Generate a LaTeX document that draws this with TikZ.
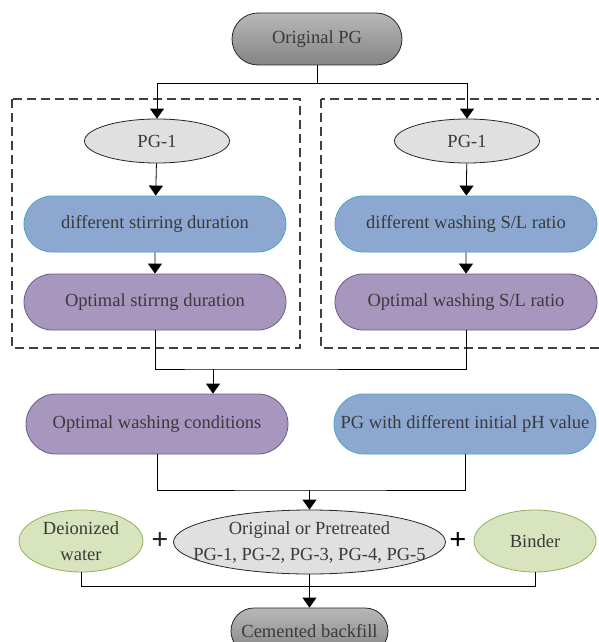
\documentclass[tikz,border=0pt]{standalone}
\usepackage{fontspec}
\setmainfont{Liberation Serif}
\usetikzlibrary{arrows.meta,positioning,shapes.geometric,shapes.misc}
\definecolor{stepblue}{HTML}{8CA8D1}
\definecolor{stepblueline}{HTML}{4BA6C3}
\definecolor{optpurple}{HTML}{A797BF}
\definecolor{optpurpleline}{HTML}{6C5A8A}
\definecolor{mixgreen}{HTML}{D7E4BD}
\definecolor{mixgreenline}{HTML}{93B159}
\definecolor{txtgray}{HTML}{3A3A3A}
\tikzset{
      pillbox/.style={
        rounded rectangle,
        line width=0.8pt,
        minimum width=266pt,
        minimum height=56pt,
        inner sep=2pt,
        text=txtgray,
        font=\fontsize{18.5}{22}\selectfont
      },
      bluebox/.style={pillbox, draw=stepblueline, fill=stepblue},
      purplebox/.style={pillbox, draw=optpurpleline, fill=optpurple},
      endbox/.style={pillbox, draw=black!85, top color=black!28, bottom color=black!48},
      pgellipse/.style={
        ellipse,
        draw=black!85,
        line width=0.8pt,
        fill=black!12,
        inner sep=0pt,
        text=txtgray,
        font=\fontsize{18.5}{22}\selectfont
      },
      greenellipse/.style={pgellipse, draw=mixgreenline, fill=mixgreen},
      plussign/.style={font=\fontsize{30}{30}\selectfont\bfseries, text=black!85, inner sep=0pt},
      arr/.style={-{Triangle[length=10pt,width=14pt]}, line width=0.8pt, color=black},
      lnk/.style={line width=0.8pt, color=black},
      frame/.style={dash pattern=on 9pt off 5pt, line width=1.1pt, color=black!75}
    }

\begin{document}
\begin{tikzpicture}[x=1pt,y=-1pt]
    \clip (0,0) rectangle (599,642);
    \useasboundingbox (0,0) rectangle (599,642);
    % dashed frames
    \draw[frame] (12,99) rectangle (300,348);
    \draw[frame] (321,99) rectangle (620,348);
    % nodes
    \node[endbox, minimum width=174pt, minimum height=52pt] (org) at (317,39) {Original PG};
    \node[pgellipse, minimum width=145pt, minimum height=44pt] (pgL) at (157,141) {PG-1};
    \node[pgellipse, minimum width=145pt, minimum height=44pt] (pgR) at (467,141) {PG-1};
    \node[bluebox] (stir) at (155,224) {different stirring duration};
    \node[bluebox] (wash) at (466,224) {different washing S/L ratio};
    \node[purplebox] (optS) at (155,302) {Optimal stirrng duration};
    \node[purplebox] (optR) at (466,302) {Optimal washing S/L ratio};
    \node[purplebox, minimum height=60pt] (cond) at (157,424) {Optimal washing conditions};
    \node[bluebox, minimum height=60pt] (phv) at (465,424) {PG with different initial pH value};
    \node[pgellipse, minimum width=271pt, minimum height=64pt, inner xsep=-20pt, align=center, font=\fontsize{18.5}{26}\selectfont] (mix) at (309.5,542) {Original or Pretreated\\PG-1, PG-2, PG-3, PG-4, PG-5};
    \node[greenellipse, minimum width=124pt, minimum height=62pt, align=center, font=\fontsize{18.5}{26}\selectfont] (water) at (81,541) {Deionized\\water};
    \node[greenellipse, minimum width=122pt, minimum height=62pt] (binder) at (535,541) {Binder};
    \node[plussign] (plusL) at (160,541) {+};
    \node[plussign, text=black] (plusR) at (458,541) {+};
    \node[endbox, minimum width=161pt, minimum height=46pt] (back) at (309.5,631) {Cemented backfill};
    % connectors
    \coordinate (j0) at (317,83);
    \coordinate (j1) at (213,369);
    \coordinate (j2) at (309.5,490);
    \draw[lnk] (org.south) -- (j0);
    \draw[arr] (j0) -| (pgL.north);
    \draw[arr] (j0) -| (pgR.north);
    \draw[arr] (pgL) -- (stir);
    \draw[arr] (pgR) -- (wash);
    \draw[arr] (stir) -- (optS);
    \draw[arr] (wash) -- (optR);
    \draw[lnk] (optS.south) |- (j1) -| (optR.south);
    \draw[arr] (j1) -- (j1 |- cond.north);
    \draw[lnk] (cond.south) |- (j2) -| (phv.south);
    \draw[arr] (j2) -- (mix.north);
    \draw[lnk] (water.south) -- ++(0,14) -| (binder.south);
    \draw[arr] (mix.south) -- (back.north);
\end{tikzpicture}
\end{document}
